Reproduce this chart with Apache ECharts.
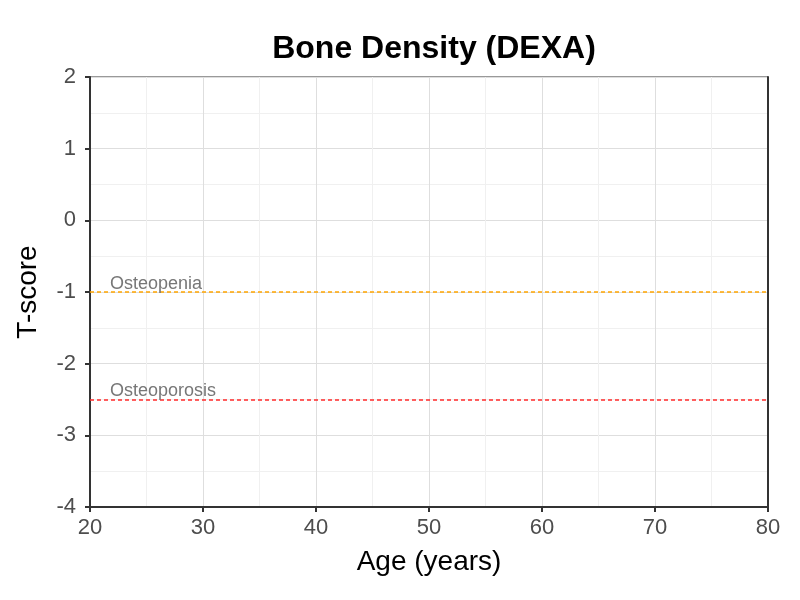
<!DOCTYPE html>
<html lang="en">
<head>
  <meta charset="UTF-8">
  <title>Bone Density (DEXA)</title>
  <style>
    html, body { margin: 0; padding: 0; background: #fff; }
  </style>
</head>
<body>
  <div id="main" style="width: 800px;height:600px;"></div>
  <script src="https://cdn.jsdelivr.net/npm/echarts@6/dist/echarts.min.js"></script>
  <script>
    // axis ranges
    let xRange = [20, 80];
    let yRange = [-4, 2];
    // reference thresholds
    let thresholdNames = ['Osteopenia', 'Osteoporosis'];
    let thresholdValues = [-1, -2.5];
    let thresholdColors = ['#FFA500', '#FF2A2A'];

    let fontFamily = 'Arial, "Liberation Sans", sans-serif';
    let axisColor = '#333333';

    // one empty series per threshold, each carrying its own markLine
    let thresholdSeries = thresholdNames.map((name, i) => ({
      type: 'line',
      name: name,
      data: [],
      color: thresholdColors[i],
      z: 10,
      markLine: {
        silent: true,
        symbol: ['none', 'none'],
        lineStyle: { color: thresholdColors[i], type: [4, 3], width: 1.5, opacity: 1 },
        label: {
          show: true,
          position: 'insideStartTop',
          formatter: '{b}',
          fontFamily: fontFamily,
          fontSize: 18,
          color: '#777777',
          distance: [20, -1]
        },
        data: [{ name: name, yAxis: thresholdValues[i] }]
      }
    }));

    let chart = echarts.init(document.getElementById('main'));
    let option = {
      backgroundColor: '#fff',
      animation: false,
      title: {
        text: 'Bone Density (DEXA)',
        left: 429,
        top: 28,
        textAlign: 'center',
        textStyle: {
          fontFamily: fontFamily,
          fontSize: 32,
          fontWeight: 'bold',
          color: '#000'
        }
      },
      grid: {
        left: 90,
        right: 32,
        top: 77,
        bottom: 93,
        show: true,
        borderColor: axisColor,
        borderWidth: 1
      },
      xAxis: {
        type: 'value',
        min: xRange[0],
        max: xRange[1],
        interval: 10,
        name: 'Age (years)',
        nameLocation: 'middle',
        nameGap: 41,
        nameTextStyle: { fontFamily: fontFamily, fontSize: 28, color: '#000' },
        axisLine: { show: true, onZero: false, lineStyle: { color: axisColor, width: 2 } },
        axisTick: { show: true, length: 5, lineStyle: { color: axisColor, width: 2 } },
        axisLabel: { fontFamily: fontFamily, fontSize: 22, color: '#4D4D4D', margin: 10 },
        splitLine: { show: true, lineStyle: { color: '#DEDEDE', width: 1 } },
        minorTick: { show: false, splitNumber: 2 },
        minorSplitLine: { show: true, lineStyle: { color: '#F0F0F0', width: 1 } }
      },
      yAxis: [{
        type: 'value',
        min: yRange[0],
        max: yRange[1],
        interval: 1,
        name: 'T-score',
        nameLocation: 'middle',
        nameGap: 48,
        nameTextStyle: { fontFamily: fontFamily, fontSize: 28, color: '#000' },
        axisLine: { show: true, onZero: false, lineStyle: { color: axisColor, width: 2 } },
        axisTick: { show: true, length: 5, lineStyle: { color: axisColor, width: 2 } },
        axisLabel: { fontFamily: fontFamily, fontSize: 22, color: '#4D4D4D', margin: 14 },
        splitLine: { show: true, lineStyle: { color: '#DEDEDE', width: 1 } },
        minorTick: { show: false, splitNumber: 2 },
        minorSplitLine: { show: true, lineStyle: { color: '#F0F0F0', width: 1 } }
      }, {
        type: 'value',
        position: 'right',
        min: yRange[0],
        max: yRange[1],
        interval: 1,
        axisLine: { show: true, onZero: false, lineStyle: { color: axisColor, width: 2 } },
        axisTick: { show: false },
        axisLabel: { show: false },
        splitLine: { show: false }
      }],
      series: thresholdSeries
    };
    chart.setOption(option);
  </script>
</body>
</html>
